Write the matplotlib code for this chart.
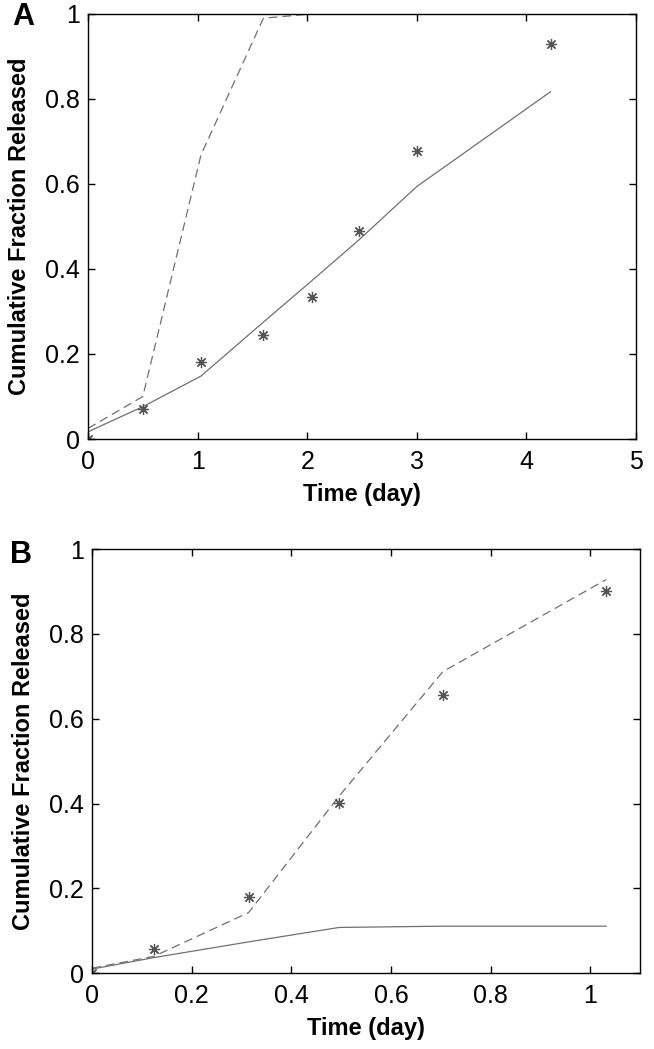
from matplotlib import pyplot as plt

plt.rcParams['font.family'] = ['Liberation Sans', 'DejaVu Sans']

# panel A
time_a = [0, 0.5, 1.03, 1.6, 2.04, 2.47, 3.0, 4.22]
measured_a = [0, 0.07, 0.18, 0.245, 0.335, 0.49, 0.678, 0.929]
model_solid_a = [0.017, 0.076, 0.148, 0.275, 0.372, 0.468, 0.594, 0.817]
model_dashed_a = [0.025, 0.10, 0.668, 0.99, 1.0, 1.0, 1.0, 1.0]

# panel B
time_b = [0, 0.124, 0.314, 0.496, 0.704, 1.032]
measured_b = [0, 0.057, 0.18, 0.402, 0.655, 0.902]
model_solid_b = [0.01, 0.037, 0.074, 0.108, 0.111, 0.111]
model_dashed_b = [0.012, 0.04, 0.143, 0.418, 0.711, 0.928]

LINE_GREY = '#707070'
STAR_GREY = '#555555'


def draw_panel(ax, t, measured, solid, dashed, xlim, xticks):
    ax.plot(t, solid, color=LINE_GREY, linewidth=0.9)
    ax.plot(t, dashed, color=LINE_GREY, linewidth=0.9, linestyle=(0, (7, 4)))
    ax.plot(t, measured, linestyle='none', marker=(8, 2, 0), markersize=8,
            markeredgewidth=0.9, color=STAR_GREY)
    ax.set_xlim(*xlim)
    ax.set_ylim(0, 1)
    ax.set_xticks(xticks)
    ax.set_xticklabels([f"{v:g}" for v in xticks])
    ax.set_yticks([0, 0.2, 0.4, 0.6, 0.8, 1])
    ax.set_yticklabels(['0', '0.2', '0.4', '0.6', '0.8', '1'])
    ax.tick_params(direction='in', length=5, width=1, top=True, right=True,
                   labelsize=18)
    ax.tick_params(axis='x', pad=8)
    ax.tick_params(axis='y', pad=6)
    for spine in ax.spines.values():
        spine.set_linewidth(1.0)
    ax.set_xlabel("Time (day)", fontsize=17, fontweight='bold')
    ax.set_ylabel("Cumulative Fraction Released", fontsize=17, fontweight='bold')
    ax.xaxis.set_label_coords(0.5, -0.103)
    ax.yaxis.set_label_coords(-0.104, 0.5)


fig = plt.figure(figsize=(6.54, 10.49), dpi=100)
ax_a = fig.add_axes([0.1346, 0.5815, 0.8379, 0.4052])
ax_b = fig.add_axes([0.1411, 0.0722, 0.8375, 0.4044])

draw_panel(ax_a, time_a, measured_a, model_solid_a, model_dashed_a,
           (0, 5), [0, 1, 2, 3, 4, 5])
draw_panel(ax_b, time_b, measured_b, model_solid_b, model_dashed_b,
           (0, 1.1), [0, 0.2, 0.4, 0.6, 0.8, 1])

fig.text(23 / 654, 1 - 17 / 1049, 'A', fontsize=22, fontweight='bold',
         ha='center', va='center')
fig.text(21 / 654, 1 - 555 / 1049, 'B', fontsize=22, fontweight='bold',
         ha='center', va='center')

fig.savefig('out.png', dpi=100)
